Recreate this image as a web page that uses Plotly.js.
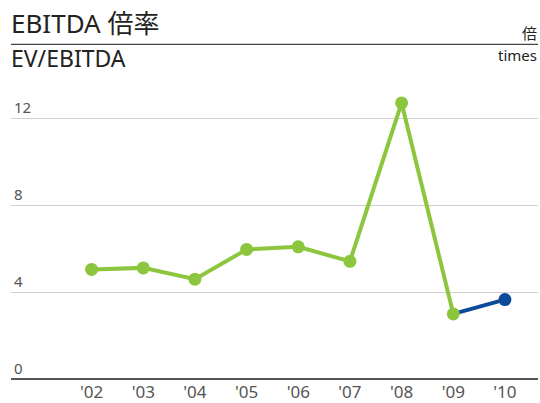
<!DOCTYPE html>
<html>
<head>
<meta charset="utf-8">
<script src="https://cdn.plot.ly/plotly-3.0.1.min.js"></script>
<style>html,body{margin:0;padding:0;background:#fff;}#chart{width:540px;height:403px;}</style>
</head>
<body>
<div id="chart"></div>
<script>
const years = ["'02","'03","'04","'05","'06","'07","'08","'09","'10"];
const actualYears = ["'02","'03","'04","'05","'06","'07","'08","'09"];
const actualValues = [5.05, 5.12, 4.60, 5.97, 6.09, 5.42, 12.72, 3.00];
const latestYears = ["'09","'10"];
const latestValues = [3.00, 3.66];
const yTicks = [0, 4, 8, 12];

const green = '#8cc63f';
const blue = '#0d4a9a';
const font = '"Noto Sans", "Noto Sans CJK JP", sans-serif';

const traces = [
  {x: latestYears, y: latestValues, type: 'scatter', mode: 'lines+markers',
   line: {color: blue, width: 4},
   marker: {color: blue, size: [0, 13], opacity: 1, line: {width: 0}}, hoverinfo: 'skip'},
  {x: actualYears, y: actualValues, type: 'scatter', mode: 'lines+markers',
   line: {color: green, width: 4},
   marker: {color: green, size: 13, opacity: 1, line: {width: 0}}, hoverinfo: 'skip'}
];

const layout = {
  width: 540, height: 403,
  margin: {l: 11, r: 2, t: 86, b: 24.4},
  paper_bgcolor: '#fff', plot_bgcolor: '#fff',
  showlegend: false,
  font: {family: font, color: '#555'},
  xaxis: {type: 'category', categoryorder: 'array', categoryarray: years,
    range: [-1.56, 8.64], showgrid: false, zeroline: false, showline: false,
    ticks: '', ticklabelstandoff: 1, tickfont: {size: 17, color: '#555'}, fixedrange: true},
  yaxis: {range: [0, 13.5], tickvals: yTicks, ticktext: yTicks.map(String),
    showgrid: true, gridcolor: '#cfcfcf', gridwidth: 1.2,
    zeroline: true, zerolinecolor: '#555', zerolinewidth: 1.6,
    showline: false, ticks: '', ticklabelposition: 'inside top',
    tickfont: {size: 15, color: '#555'}, fixedrange: true},
  shapes: [
    {type: 'line', xref: 'paper', yref: 'paper', x0: 0, x1: 1, y0: 1.1418, y1: 1.1418,
     line: {color: '#444', width: 1.2}}
  ],
  annotations: [
    {text: 'EBITDA 倍率', xref: 'paper', yref: 'paper', x: -0.004, y: 1.2153,
     xanchor: 'left', yanchor: 'middle', showarrow: false,
     font: {size: 26, color: '#222', family: font}},
    {text: 'EV/EBITDA', xref: 'paper', yref: 'paper', x: -0.004, y: 1.0957,
     xanchor: 'left', yanchor: 'middle', showarrow: false,
     font: {size: 23, color: '#222', family: font}},
    {text: '倍', xref: 'paper', yref: 'paper', x: 1.002, y: 1.181,
     xanchor: 'right', yanchor: 'middle', showarrow: false,
     font: {size: 15, color: '#222', family: font}},
    {text: 'times', xref: 'paper', yref: 'paper', x: 1.002, y: 1.106,
     xanchor: 'right', yanchor: 'middle', showarrow: false,
     font: {size: 15, color: '#222', family: font}}
  ]
};

Plotly.newPlot('chart', traces, layout, {displayModeBar: false, staticPlot: true});
</script>
</body>
</html>
